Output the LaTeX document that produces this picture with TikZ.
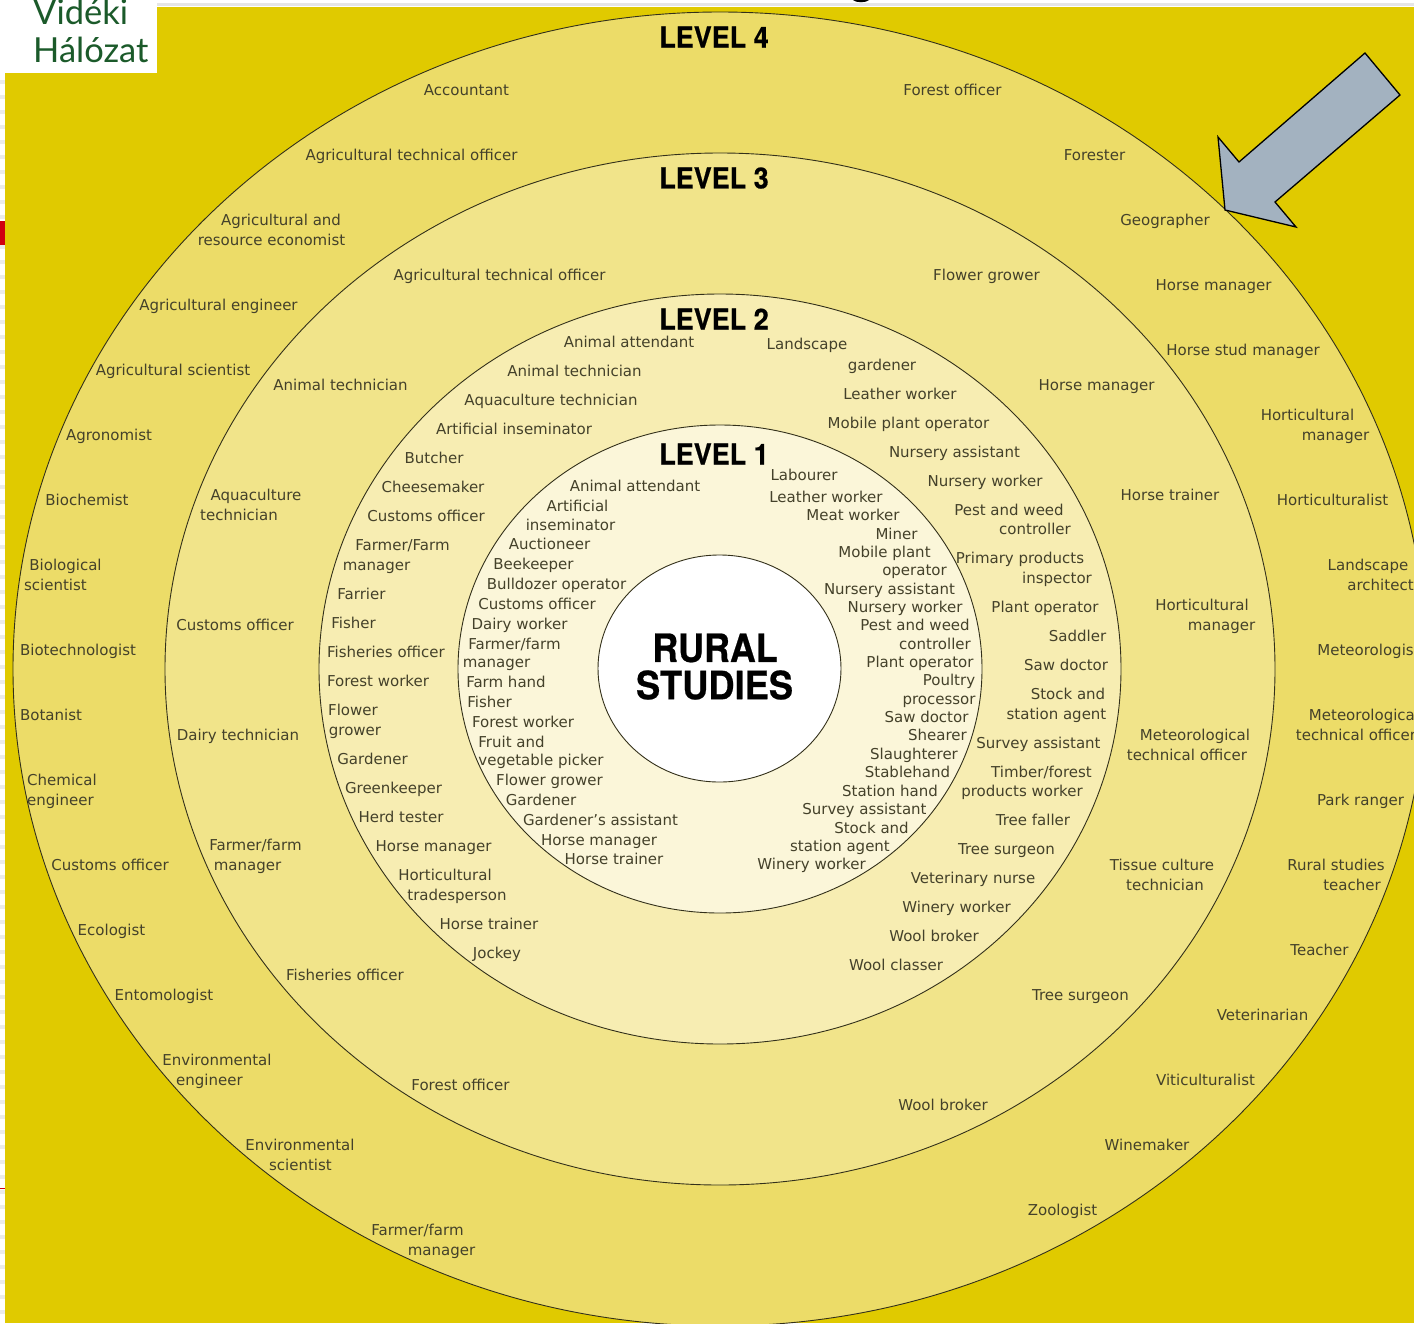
\documentclass[tikz,border=0pt]{standalone}
\usepackage{fontspec}
\usepackage{graphicx}
\setmainfont{DejaVu Sans}
\newfontfamily\headfont[BoldFeatures={FakeBold=0.6}]{TeX Gyre Heros}
\newfontfamily\logofont{Lato}
\definecolor{bgyellow}{HTML}{E0CA00}
\definecolor{ringfour}{HTML}{ECDC68}
\definecolor{ringthree}{HTML}{F1E48A}
\definecolor{ringtwo}{HTML}{F7EDB2}
\definecolor{ringone}{HTML}{FBF6D9}
\definecolor{inktext}{HTML}{44412A}
\definecolor{ringline}{HTML}{33301A}
\definecolor{arrowblue}{HTML}{A3B2C0}
\definecolor{logogreen}{HTML}{1B5A2A}
\definecolor{stripred}{HTML}{D00010}
\newcount\labn
\newcommand{\lab}[4]{\global\advance\labn by 1
  \node[joblabel] (t\the\labn) at ({(#1+#2)/2},{#3+6.3}) {#4};}
\newcommand{\lev}[2]{\node[levellabel] (level#1) at (714,#2) {\scalebox{0.93}[1]{LEVEL #1}};}
\tikzset{
  joblabel/.style={anchor=base,inner sep=0pt,text=inktext,font=\fontsize{15}{18}\selectfont},
  levellabel/.style={anchor=center,inner sep=0pt,text=black,font=\headfont\bfseries\fontsize{29}{30}\selectfont},
  centrelabel/.style={anchor=center,inner sep=0pt,text=black,font=\headfont\bfseries\fontsize{39}{40}\selectfont},
  ring/.style={draw=ringline,line width=0.9pt},
}
\begin{document}
\begin{tikzpicture}[x=1pt,y=-1pt]
\useasboundingbox (0,0) rectangle (1414,1323);
\clip (0,0) rectangle (1414,1323);
\fill[white] (0,0) rectangle (1414,1323);
% page remnants
\fill[black!10] (157,3) rectangle (1414,6);
\foreach \yy in {80,95,...,1320} {\fill[black!8] (0,\yy) rectangle (5,\yy+4);}
\fill[stripred] (0,221) rectangle (5,245);
\fill[stripred] (0,1187.5) rectangle (5,1189);
\fill[bgyellow] (5,7) rectangle (1414,1323);
\fill[black] (853,0) .. controls (856,3) and (866,3) .. (869,0) -- cycle;
% logo
\fill[white] (0,0) rectangle (157,73);
\node[anchor=base west,inner sep=0pt,text=logogreen,font=\logofont\fontsize{34.5}{40}\selectfont] (logoa) at (33,24) {Vidéki};
\node[anchor=base west,inner sep=0pt,text=logogreen,font=\logofont\fontsize{34.5}{40}\selectfont] (logob) at (33,62) {Hálózat};
% rings
\fill[ringfour,ring] (720,669) ellipse [x radius=707,y radius=657];
\fill[ringthree,ring] (720,669) ellipse [x radius=555,y radius=516];
\fill[ringtwo,ring] (720,669) ellipse [x radius=401,y radius=375];
\fill[ringone,ring] (720,669) ellipse [x radius=262,y radius=244];
\fill[white,ring] (719.5,668.5) ellipse [x radius=121.5,y radius=113.5];
% arrow
\draw[fill=arrowblue,draw=black,line width=1.3pt,line join=miter] (1365,53) -- (1400,95) -- (1275,202) -- (1296,227) -- (1225,210) -- (1218,137) -- (1239,162) -- cycle;
% headings
\lev{4}{37}\lev{3}{178}\lev{2}{319}\lev{1}{454}
\node[centrelabel] (rural) at (715,648) {\scalebox{0.92}[1]{RURAL}};
\node[centrelabel] (studies) at (714.5,685) {\scalebox{0.93}[1]{STUDIES}};
% level 4
\lab{423}{510}{89}{Accountant}
\lab{301}{522}{154}{Agricultural technical officer}
\lab{219}{343}{219}{Agricultural and}
\lab{198}{345}{239}{resource economist}
\lab{138}{299}{304}{Agricultural engineer}
\lab{96}{250}{369}{Agricultural scientist}
\lab{65}{153}{434}{Agronomist}
\lab{45}{129}{499}{Biochemist}
\lab{28}{103}{564}{Biological}
\lab{24}{87}{584}{scientist}
\lab{19}{137}{649}{Biotechnologist}
\lab{19}{83}{714}{Botanist}
\lab{27}{97}{779}{Chemical}
\lab{29}{92}{799}{engineer}
\lab{50}{170}{864}{Customs officer}
\lab{76}{147}{929}{Ecologist}
\lab{113}{215}{994}{Entomologist}
\lab{162}{272}{1059}{Environmental}
\lab{178}{241}{1079}{engineer}
\lab{245}{355}{1144}{Environmental}
\lab{269}{332}{1164}{scientist}
\lab{369}{466}{1229}{Farmer/farm}
\lab{408}{475}{1249}{manager}
\lab{901}{1004}{89}{Forest officer}
\lab{1063}{1126}{154}{Forester}
\lab{1121}{1209}{219}{Geographer}
\lab{1155}{1272}{284}{Horse manager}
\lab{1166}{1320}{349}{Horse stud manager}
\lab{1258}{1357}{414}{Horticultural}
\lab{1302}{1369}{434}{manager}
\lab{1273}{1392}{499}{Horticulturalist}
\lab{1328}{1408}{564}{Landscape}
\lab{1347}{1414}{584}{architect}
\lab{1315}{1422}{649}{Meteorologist}
\lab{1306}{1422}{714}{Meteorological}
\lab{1294}{1418}{734}{technical officer}
\lab{1315}{1406}{799}{Park ranger}
\lab{1286}{1386}{864}{Rural studies}
\lab{1324}{1380}{884}{teacher}
\lab{1290}{1349}{949}{Teacher}
\lab{1216}{1309}{1014}{Veterinarian}
\lab{1153}{1258}{1079}{Viticulturalist}
\lab{1104}{1190}{1144}{Winemaker}
\lab{1027}{1098}{1209}{Zoologist}
% level 3
\lab{389}{610}{274}{Agricultural technical officer}
\lab{272}{409}{384}{Animal technician}
\lab{210}{302}{494}{Aquaculture}
\lab{200}{278}{514}{technician}
\lab{175}{295}{624}{Customs officer}
\lab{176}{300}{734}{Dairy technician}
\lab{207}{304}{844}{Farmer/farm}
\lab{214}{281}{864}{manager}
\lab{284}{406}{974}{Fisheries officer}
\lab{409}{512}{1084}{Forest officer}
\lab{932}{1041}{274}{Flower grower}
\lab{1038}{1155}{384}{Horse manager}
\lab{1119}{1221}{494}{Horse trainer}
\lab{1152}{1252}{604}{Horticultural}
\lab{1188}{1255}{624}{manager}
\lab{1138}{1252}{734}{Meteorological}
\lab{1125}{1249}{754}{technical officer}
\lab{1109}{1215}{864}{Tissue culture}
\lab{1126}{1204}{884}{technician}
\lab{1032}{1129}{994}{Tree surgeon}
\lab{896}{990}{1104}{Wool broker}
% level 2
\lab{563}{695}{341}{Animal attendant}
\lab{506}{643}{370}{Animal technician}
\lab{463}{639}{399}{Aquaculture technician}
\lab{432}{596}{428}{Artificial inseminator}
\lab{404}{464}{457}{Butcher}
\lab{383}{483}{486}{Cheesemaker}
\lab{366}{486}{515}{Customs officer}
\lab{352}{453}{544}{Farmer/Farm}
\lab{343}{410}{564}{manager}
\lab{335}{388}{593}{Farrier}
\lab{330}{377}{622}{Fisher}
\lab{325}{447}{651}{Fisheries officer}
\lab{325}{431}{680}{Forest worker}
\lab{327}{379}{709}{Flower}
\lab{329}{381}{729}{grower}
\lab{337}{408}{758}{Gardener}
\lab{346}{441}{787}{Greenkeeper}
\lab{358}{444}{816}{Herd tester}
\lab{375}{492}{845}{Horse manager}
\lab{395}{495}{874}{Horticultural}
\lab{408}{506}{894}{tradesperson}
\lab{438}{540}{923}{Horse trainer}
\lab{471}{523}{952}{Jockey}
\lab{767}{847}{343}{Landscape}
\lab{848}{916}{364}{gardener}
\lab{842}{958}{393}{Leather worker}
\lab{825}{992}{422}{Mobile plant operator}
\lab{888}{1021}{451}{Nursery assistant}
\lab{926}{1044}{480}{Nursery worker}
\lab{954}{1064}{509}{Pest and weed}
\lab{998}{1072}{528}{controller}
\lab{953}{1087}{557}{Primary products}
\lab{1022}{1092}{577}{inspector}
\lab{989}{1101}{606}{Plant operator}
\lab{1048}{1107}{635}{Saddler}
\lab{1022}{1110}{664}{Saw doctor}
\lab{1030}{1106}{693}{Stock and}
\lab{1006}{1107}{713}{station agent}
\lab{976}{1101}{742}{Survey assistant}
\lab{990}{1093}{771}{Timber/forest}
\lab{960}{1084}{790}{products worker}
\lab{994}{1072}{819}{Tree faller}
\lab{958}{1055}{848}{Tree surgeon}
\lab{910}{1036}{877}{Veterinary nurse}
\lab{901}{1012}{906}{Winery worker}
\lab{887}{981}{935}{Wool broker}
\lab{848}{944}{964}{Wool classer}
% level 1
\lab{569}{701}{485}{Animal attendant}
\lab{543}{612}{505}{Artificial}
\lab{526}{615}{524}{inseminator}
\lab{509}{590}{543}{Auctioneer}
\lab{495}{572}{563}{Beekeeper}
\lab{487}{626}{583}{Bulldozer operator}
\lab{477}{597}{603}{Customs officer}
\lab{470}{569}{623}{Dairy worker}
\lab{466}{563}{643}{Farmer/farm}
\lab{463}{530}{661}{manager}
\lab{465}{547}{681}{Farm hand}
\lab{466}{513}{701}{Fisher}
\lab{470}{576}{721}{Forest worker}
\lab{478}{545}{741}{Fruit and}
\lab{483}{599}{759}{vegetable picker}
\lab{495}{604}{779}{Flower grower}
\lab{506}{576}{799}{Gardener}
\lab{523}{678}{819}{Gardener’s assistant}
\lab{541}{657}{839}{Horse manager}
\lab{563}{665}{858}{Horse trainer}
\lab{769}{839}{474}{Labourer}
\lab{768}{884}{496}{Leather worker}
\lab{805}{901}{514}{Meat worker}
\lab{875}{918}{533}{Miner}
\lab{837}{932}{551}{Mobile plant}
\lab{882}{947}{569}{operator}
\lab{823}{956}{588}{Nursery assistant}
\lab{846}{964}{606}{Nursery worker}
\lab{860}{970}{624}{Pest and weed}
\lab{898}{972}{643}{controller}
\lab{864}{976}{661}{Plant operator}
\lab{922}{976}{679}{Poultry}
\lab{903}{975}{698}{processor}
\lab{883}{970}{716}{Saw doctor}
\lab{908}{967}{734}{Shearer}
\lab{870}{958}{753}{Slaughterer}
\lab{865}{950}{771}{Stablehand}
\lab{841}{939}{790}{Station hand}
\lab{802}{927}{808}{Survey assistant}
\lab{833}{910}{827}{Stock and}
\lab{790}{890}{845}{station agent}
\lab{756}{867}{863}{Winery worker}
\end{tikzpicture}
\end{document}
